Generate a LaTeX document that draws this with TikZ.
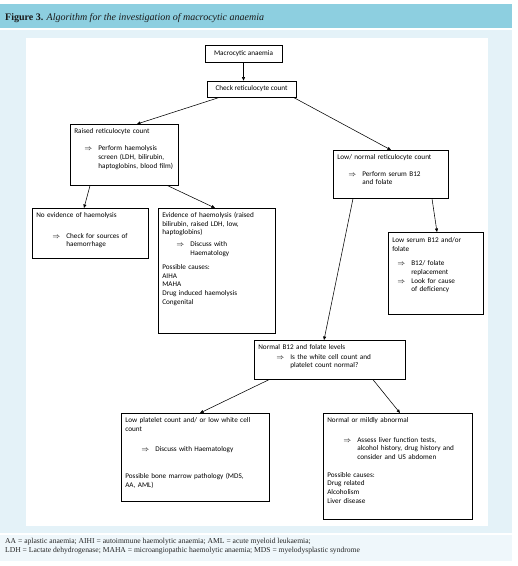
\documentclass[tikz,border=0pt]{standalone}
\usepackage{fontspec}
\setmainfont{Carlito}
\newfontfamily\capfont{Liberation Serif}
\usetikzlibrary{arrows.meta}

\definecolor{headteal}{RGB}{141,207,224}
\definecolor{panelblue}{RGB}{228,242,248}
\definecolor{noteblue}{RGB}{239,247,251}

% implication line and its continuation
\newcommand{\imp}[2][16pt]{\hspace*{#1}\makebox[14pt][l]{$\Rightarrow$}\mbox{#2}}
\newcommand{\cnt}[2][30pt]{\hspace*{#1}\mbox{#2}}

\begin{document}
\begin{tikzpicture}[x=1pt, y=-1pt,
    box/.style={draw, line width=0.65pt, anchor=north west, align=left,
      inner xsep=4pt, inner ysep=4pt, text height=5pt,
      font=\fontsize{7.2}{8.7}\selectfont},
    topbox/.style={draw, line width=0.65pt, inner sep=0pt,
      font=\fontsize{7.2}{8.7}\selectfont},
    link/.style={-{Triangle[length=3.5pt,width=3pt]}, line width=0.55pt}]
  \useasboundingbox (0,0) rectangle (518,566);
  % page background
  \fill[white] (0,0) rectangle (518,566);
  \fill[headteal] (0,4) rectangle (512,28);
  \fill[panelblue] (0,29.5) rectangle (512,533);
  \fill[white] (26,38) rectangle (488,526);
  \fill[noteblue] (0,535) rectangle (512,561);

  \node[anchor=base west, inner sep=0pt, font=\capfont\fontsize{10}{12}\selectfont, text=black!90]
    (caption) at (5,20) {\textbf{Figure 3.} \textit{Algorithm for the investigation of macrocytic anaemia}};

  % flow chart
  \node[topbox, minimum width=77pt, minimum height=17pt] (macro) at (243.5,53.5) {Macrocytic anaemia};
  \node[topbox, minimum width=89pt, minimum height=16pt] (check) at (251.5,89) {Check reticulocyte count};

  \node[box, text width=100pt, text depth=48pt] (raised) at (70,124) {%
    Raised reticulocyte count\\[8.7pt]
    \imp[10pt]{Perform haemolysis}\\
    \cnt[24pt]{screen (LDH, bilirubin,}\\
    \cnt[24pt]{haptoglobins, blood film)}};

  \node[box, text width=107pt, text depth=35pt] (lownorm) at (333,150) {%
    Low/ normal reticulocyte count\\[8pt]
    \imp[11pt]{Perform serum B12}\\
    \cnt[25pt]{and folate}};

  \node[box, text width=108pt, text depth=37pt] (noevid) at (32,208) {%
    No evidence of haemolysis\\[12pt]
    \imp{Check for sources of}\\
    \cnt{haemorrhage}};

  \node[box, text width=109pt, text depth=112pt] (evid) at (158,208) {%
    Evidence of haemolysis (raised\\
    bilirubin, raised LDH, low,\\
    haptoglobins)\\[3.5pt]
    \imp[14pt]{Discuss with}\\
    \cnt[28pt]{Haematology}\\[5pt]
    Possible causes:\\
    AIHA\\
    MAHA\\
    Drug induced haemolysis\\
    Congenital};

  \node[box, text width=87pt, text depth=68pt, text height=6pt] (lowserum) at (388,232) {%
    Low serum B12 and/or\\
    folate\\[6pt]
    \imp[5pt]{B12/ folate}\\
    \cnt[19pt]{replacement}\\
    \imp[5pt]{Look for cause}\\
    \cnt[19pt]{of deficiency}};

  \node[box, text width=143pt, text depth=26pt] (normb12) at (254,340) {%
    Normal B12 and folate levels\\[1pt]
    \imp[18pt]{Is the white cell count and}\\
    \cnt[32pt]{platelet count normal?}};

  \node[box, text width=140pt, text depth=75pt] (lowplat) at (121,413) {%
    Low platelet count and/ or low white cell\\
    count\\[12pt]
    \imp{Discuss with Haematology}\\[18pt]
    Possible bone marrow pathology (MDS,\\
    AA, AML)};

  \node[box, text width=141pt, text depth=93pt] (normmild) at (323,413) {%
    Normal or mildly abnormal\\[11pt]
    \imp{Assess liver function tests,}\\
    \cnt{alcohol history, drug history and}\\
    \cnt{consider and US abdomen}\\[9pt]
    Possible causes:\\
    Drug related\\
    Alcoholism\\
    Liver disease};

  % connectors
  \draw[link] (macro.south) -- (macro.south |- check.north);
  \draw[link] ([xshift=13pt]check.south west) -- ([xshift=67pt]raised.north west);
  \draw[link] ([xshift=-3pt]check.south east) -- ([xshift=58pt]lownorm.north west);
  \draw[link] ([xshift=20pt]raised.south west) -- ([xshift=52pt]noevid.north west);
  \draw[link] ([xshift=-11pt]raised.south east) -- ([xshift=57pt]evid.north west);
  \draw[link] ([xshift=20pt]lownorm.south west) -- ([xshift=70pt]normb12.north west);
  \draw[link] ([xshift=99pt]lownorm.south west) -- ([xshift=49pt]lowserum.north west);
  \draw[link] ([xshift=15pt]normb12.south west) -- ([xshift=79pt]lowplat.north west);
  \draw[link] ([xshift=119pt]normb12.south west) -- ([xshift=77pt]normmild.north west);

  % abbreviations
  \node[anchor=north west, align=left, inner sep=0pt, font=\capfont\fontsize{7.6}{9}\selectfont, text=black!85]
    (abbrev) at (5,538.5) {AA = aplastic anaemia; AIHI = autoimmune haemolytic anaemia; AML = acute myeloid leukaemia;\\
    LDH = Lactate dehydrogenase; MAHA = microangiopathic haemolytic anaemia; MDS = myelodysplastic syndrome};
\end{tikzpicture}
\end{document}
